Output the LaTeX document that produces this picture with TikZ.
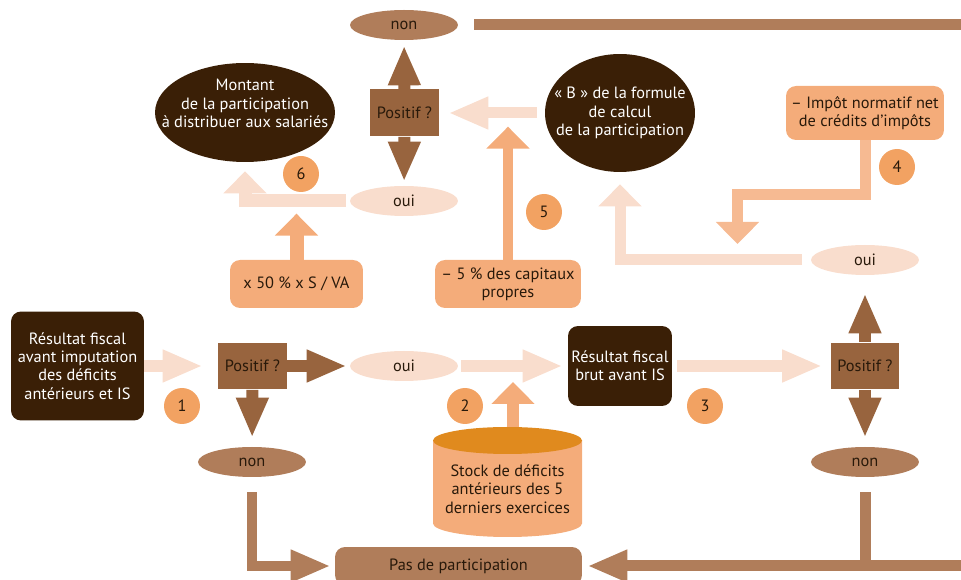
\documentclass[tikz,border=0pt]{standalone}
\usepackage{fontspec}
\setmainfont{PT Sans}
\usetikzlibrary{arrows.meta,shapes.geometric}

\definecolor{fonce}{RGB}{58,31,6}
\definecolor{brunmoyen}{RGB}{152,100,62}
\definecolor{brunclair}{RGB}{176,125,90}
\definecolor{pale}{RGB}{249,221,205}
\definecolor{orangeclair}{RGB}{244,172,122}
\definecolor{orangefilet}{RGB}{246,186,146}
\definecolor{pastille}{RGB}{242,162,98}
\definecolor{cuve}{RGB}{224,138,30}
\definecolor{texte}{RGB}{40,25,10}

\tikzset{
  every node/.style={font=\fontsize{9.3}{10.4}\selectfont, text=texte},
  fondfonce/.style={fill=fonce, text=white},
  boite/.style={rectangle, rounded corners=0.2cm, inner sep=0pt, align=center},
  test/.style={rectangle, fill=brunmoyen, minimum width=1.38cm, minimum height=0.94cm, inner sep=0pt},
  bulle/.style={ellipse, inner sep=-0.5cm, align=center},
  reponse/.style={bulle, minimum width=2.16cm, minimum height=0.6cm},
  numero/.style={circle, fill=pastille, minimum size=0.72cm, inner sep=0pt},
  fleche/.style={line width=0.24cm, -{Triangle[length=0.8cm,width=0.6cm]}},
  courte/.style={line width=0.24cm, -{Triangle[length=0.44cm,width=0.84cm]}}
}

\begin{document}
\begin{tikzpicture}[x=0.02cm, y=-0.02cm]
\useasboundingbox (0,0) rectangle (961,580);

% Ligne du bas
\node[boite, fondfonce, minimum width=2.66cm, minimum height=2.18cm] (resA) at (77.5,366) {Résultat fiscal\\avant imputation\\des déficits\\antérieurs et IS};
\node[test] (posL) at (252.5,366) {Positif ?};
\node[reponse, fill=pale] (ouiL) at (404,366) {oui};
\node[reponse, fill=brunclair] (nonL) at (252,462) {non};
\node[boite, fondfonce, minimum width=2.08cm, minimum height=1.6cm] (resB) at (620,366) {Résultat fiscal\\brut avant IS};
\node[test] (posR) at (865,366) {Positif ?};
\node[reponse, fill=brunclair] (nonR) at (865,462) {non};
\node[reponse, fill=pale] (ouiR) at (865,260) {oui};
\node[boite, fill=brunclair, minimum width=4.94cm, minimum height=0.76cm] (pas) at (458.5,566) {Pas de participation};
\node[numero] (n1) at (182,406) {1};
\node[numero] (n2) at (465,406) {2};
\node[numero] (n3) at (705,406) {3};

% Stock de deficits
\fill[orangeclair] (433,440.5) -- (433,523.5) arc[start angle=180, end angle=0, x radius=74.5, y radius=13.5] -- (582,440.5) -- cycle;
\fill[cuve] (507.5,440.5) ellipse[x radius=74.5, y radius=13.5];
\node[align=center] (stock) at (507.5,489) {Stock de déficits\\antérieurs des 5\\derniers exercices};
\coordinate (cuvehaut) at (513,427);
\coordinate (f2) at (513,382);

% Partie haute
\node[reponse, fill=brunclair] (nonT) at (404,25) {non};
\node[test] (posT) at (404.5,113) {Positif ?};
\node[reponse, fill=pale] (ouiT) at (404,201) {oui};
\node[bulle, fondfonce, minimum width=3.6cm, minimum height=1.98cm] (montant) at (245,112.5) {Montant\\de la participation\\à distribuer aux salariés\\\mbox{}};
\node[numero] (n6) at (301,174) {6};
\node[boite, fill=orangeclair, minimum width=2.66cm, minimum height=0.96cm] (va) at (296.5,284) {x 50 \% x S / VA};
\node[boite, fill=orangeclair, minimum width=2.92cm, minimum height=0.96cm] (capi) at (508,284) {– 5 \% des capitaux\\propres};
\node[numero] (n5) at (544,212) {5};
\node[bulle, fondfonce, minimum width=3cm, minimum height=2.36cm] (bform) at (620,113) {«~B~» de la formule\\de calcul\\de la participation};
\node[boite, fill=orangeclair, minimum width=3.16cm, minimum height=1.08cm] (impot) at (865,113) {– Impôt normatif net\\de crédits d’impôts};
\node[numero] (n4) at (897,167) {4};
\coordinate (k4) at (737.5,195);
\coordinate (f4) at (737.5,244);

% Fleches de la ligne du bas
\draw[fleche, pale, shorten >=0.3cm] (resA) -- (posL);
\draw[fleche, brunmoyen, shorten >=0.06cm] (posL) -- (ouiL);
\draw[fleche, brunmoyen, shorten >=0.18cm] (posL) -- (nonL);
\draw[fleche, pale, shorten <=0.06cm, shorten >=0.1cm] (ouiL) -- (resB);
\draw[courte, orangeclair] (cuvehaut) -- (f2);
\draw[fleche, pale, shorten <=0.1cm, shorten >=0.16cm] (resB) -- (posR);
\draw[fleche, brunmoyen, shorten >=0.36cm] (posR) -- (ouiR);
\draw[fleche, brunmoyen, shorten >=0.18cm] (posR) -- (nonR);

% Vers pas de participation
\draw[fleche, brunclair, line width=0.2cm, shorten >=0.08cm] ([yshift=-0.3cm]nonL.south) |- (pas.west);
\draw[brunclair, line width=0.22cm] ([yshift=-0.3cm]nonR.south) -- (nonR.south |- pas);
\draw[fleche, brunclair, line width=0.22cm, shorten >=0.1cm] ([xshift=0.32cm]nonT.east) -- (990,25) -- (990,566) -- (pas.east);

% Fleches de la partie haute
\draw[fleche, brunmoyen, shorten >=0.1cm] (posT) -- (nonT);
\draw[fleche, brunmoyen, shorten >=0.08cm] (posT) -- (ouiT);
\draw[fleche, pale, line width=0.22cm, shorten <=0.16cm, shorten >=0.18cm] (bform) -- (posT);
\draw[courte, pale, line width=0.26cm, shorten <=0.08cm, shorten >=0.18cm] (ouiT.west) -| (montant.south);
\draw[courte, orangeclair, line width=0.28cm] (va.north) -- ++(0,-46);
\draw[courte, orangeclair, line width=0.2cm] (capi.north) -- ++(0,-133);
\draw[courte, orangefilet, line width=0.22cm] (impot.south) |- (k4) -- (f4);
\draw[courte, pale, line width=0.22cm, shorten <=0.18cm, shorten >=0.24cm] (ouiR.west) -| (bform.south);

\end{tikzpicture}
\end{document}
